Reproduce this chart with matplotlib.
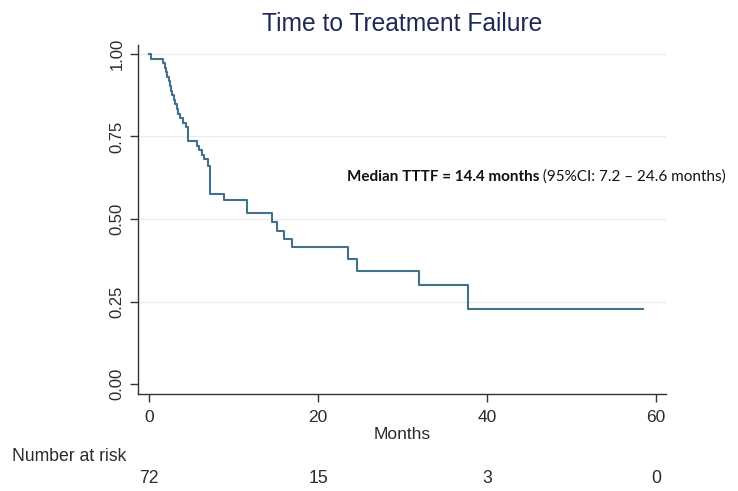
import matplotlib
matplotlib.use("Agg")
import matplotlib.pyplot as plt

# Kaplan-Meier step points (months, survival)
event_times = [0, 0.15, 1.66, 1.85, 2.0, 2.15, 2.3, 2.45, 2.6, 2.75, 2.9, 3.05,
               3.25, 3.45, 3.65, 3.95, 4.35, 4.59, 5.62, 5.89, 6.21, 6.54,
               6.99, 7.19, 8.85, 11.54, 14.48, 15.17, 15.96, 16.87, 23.58,
               24.57, 31.95, 37.8]
survival = [1.0, 0.986, 0.972, 0.958, 0.944, 0.931, 0.917, 0.903, 0.889,
            0.875, 0.861, 0.847, 0.833, 0.819, 0.806, 0.792, 0.778, 0.736,
            0.722, 0.708, 0.694, 0.681, 0.660, 0.576, 0.556, 0.517, 0.490,
            0.465, 0.440, 0.414, 0.379, 0.343, 0.301, 0.227]
last_followup = 58.5

risk_times = [0, 20, 40, 60]
at_risk = [72, 15, 3, 0]

y_ticks = [0.0, 0.25, 0.5, 0.75, 1.0]
y_ticklabels = ["0.00", "0.25", "0.50", "0.75", "1.00"]
x_ticks = [0, 20, 40, 60]

narrow = ["Liberation Sans Narrow", "Liberation Sans", "DejaVu Sans"]
line_color = "#43718a"
text_color = "#2b2b2b"

fig = plt.figure(figsize=(7.38, 4.91), dpi=100)
ax = fig.add_axes([0.1866, 0.1969, 0.7158, 0.7115])

# survival curve
ax.step(event_times + [last_followup], survival + [survival[-1]],
        where="post", color=line_color, linewidth=1.5)

ax.set_xlim(-1.37, 61.2)
ax.set_ylim(-0.031, 1.027)

# light gridlines
for yv in y_ticks[1:]:
    ax.axhline(yv, color="#ececec", linewidth=0.9, zorder=0)

ax.spines["top"].set_visible(False)
ax.spines["right"].set_visible(False)
for s in ["left", "bottom"]:
    ax.spines[s].set_color("#333333")
    ax.spines[s].set_linewidth(1.0)

ax.set_yticks(y_ticks)
ax.set_yticklabels(y_ticklabels, rotation=90, va="center",
                   family=narrow, fontsize=12, color=text_color)
ax.set_xticks(x_ticks)
ax.set_xticklabels([str(v) for v in x_ticks], family=narrow,
                   fontsize=12.5, color=text_color)
ax.tick_params(axis="both", length=5.5, width=1.0, color="#333333")
ax.tick_params(axis="y", pad=4)
ax.tick_params(axis="x", pad=6)

ax.set_xlabel("Months", family=narrow, fontsize=12.5, color=text_color,
              labelpad=1)

fig.text(0.545, 0.951, "Time to Treatment Failure", ha="center",
         va="center", family=narrow, fontsize=17.7, color="#1e2a56")

# median annotation: bold part, then the regular part right after it
bold = fig.text(0.47, 0.64, "Median TTTF = 14.4 months", family="Lato",
                fontweight="bold", fontsize=11, color="#111111",
                ha="left", va="center")
fig.canvas.draw()
bb = bold.get_window_extent()
fig.text(bb.x1 / fig.bbox.width, 0.64, " (95%CI: 7.2 \u2013 24.6 months)",
         family="Lato", fontsize=11, color="#111111", ha="left",
         va="center")

# number at risk table
fig.text(0.016, 0.071, "Number at risk", family=narrow, fontsize=12.7,
         color=text_color, ha="left", va="center")
for t, n in zip(risk_times, at_risk):
    xf = ax.transData.transform((t, 0))[0] / fig.bbox.width
    fig.text(xf, 0.026, str(n), family=narrow, fontsize=12.7,
             color=text_color, ha="center", va="center")

fig.savefig("out.png", dpi=100)
